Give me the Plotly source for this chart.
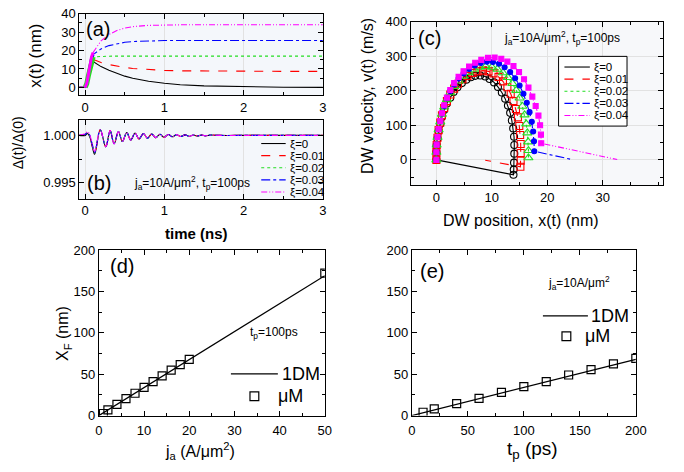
import plotly.graph_objects as go

W, H = 684, 472
FONT = "Liberation Sans, Arial, sans-serif"


def px(x):
    return x / W


def py(y):
    return 1 - y / H


# ---------------- series labels / styles ----------------
xi_labels = ["ξ=0", "ξ=0.01", "ξ=0.02", "ξ=0.03", "ξ=0.04"]
colors = ["#000000", "#ff0000", "#22dd22", "#0000ff", "#ff00ff"]
dashes = ["solid", "dash", "dot", "dashdot", "6px,2px,1px,2px,1px,2px"]

# ---------------- (a) DW position x(t) ----------------
t_a = [-0.08, 0.0, 0.02, 0.04, 0.06, 0.08, 0.1, 0.15, 0.2, 0.3, 0.4, 0.5, 0.6,
       0.8, 1.0, 1.2, 1.5, 2.0, 2.5, 3.0]
xa_0 = [0, 0, 1.8, 5.5, 9.5, 12.8, 14.1, 12.6, 11.3, 9.3, 7.5, 6.1, 5.0,
        3.3, 2.2, 1.4, 0.8, 0.3, 0.1, 0.0]
xa_1 = [0, 0, 1.9, 5.9, 10.2, 13.8, 15.2, 14.3, 13.5, 12.4, 11.5, 10.8, 10.3,
        9.6, 9.2, 9.0, 8.85, 8.75, 8.7, 8.7]
xa_2 = [0, 0, 2.0, 6.2, 10.8, 14.8, 16.6, 16.75, 16.85, 16.95, 17.0, 17.0, 17.0,
        17.0, 17.0, 17.0, 17.0, 17.0, 17.0, 17.0]
xa_3 = [0, 0, 2.1, 6.5, 11.4, 15.6, 17.8, 19.6, 20.9, 22.7, 23.8, 24.5, 24.9,
        25.3, 25.45, 25.5, 25.5, 25.5, 25.5, 25.5]
xa_4 = [0, 0, 2.2, 6.8, 12.0, 16.6, 19.0, 22.5, 25.3, 28.7, 30.9, 32.2, 33.0,
        33.7, 33.95, 34.0, 34.0, 34.0, 34.0, 34.0]
xa_all = [xa_0, xa_1, xa_2, xa_3, xa_4]
n_pulse = 7  # samples up to the end of the 100 ps pulse

# ---------------- (b) Delta(t)/Delta(0) ----------------
t_early = [-0.08, 0.0, 0.03, 0.06, 0.09, 0.12]
d_early_0 = [1.0, 1.0, 1.0002, 0.9998, 0.9988, 0.9980]
d_early_1 = [1.0, 1.0001, 1.0003, 0.9999, 0.9989, 0.9981]
d_early_2 = [1.0, 1.0001, 1.0003, 0.9999, 0.9990, 0.9982]
d_early_3 = [1.0, 1.0001, 1.0003, 1.0, 0.9990, 0.9982]
d_early_4 = [1.0, 1.0002, 1.0004, 1.0, 0.9991, 0.9983]
d_early_all = [d_early_0, d_early_1, d_early_2, d_early_3, d_early_4]
osc_t = [0.19, 0.26, 0.315, 0.365, 0.42, 0.47, 0.525, 0.575, 0.63, 0.68,
         0.735, 0.785, 0.84, 0.89, 0.945, 0.995, 1.05, 1.10, 1.155, 1.205,
         1.26, 1.31, 1.365, 1.415, 1.47, 1.52, 1.575, 1.7, 2.0, 2.5, 3.0]
osc_d = [1.0006, 0.9988, 1.0005, 0.99912, 1.0004, 0.99935, 1.0003, 0.9995,
         1.00025, 0.99962, 1.0002, 0.9997, 1.00015, 0.99976, 1.00012, 0.9998,
         1.0001, 0.99985, 1.00008, 0.99988, 1.00006, 0.9999, 1.00005, 0.99993,
         1.00004, 0.99995, 1.00003, 1.0, 1.0, 1.0, 1.0]

# ---------------- (c) velocity vs position ----------------
cx_0 = [0, 0, 0.05, 0.2, 0.4, 0.7, 1.0, 1.4, 1.9, 2.5, 3.1, 3.8, 4.6, 5.4, 6.2,
        7.0, 7.9, 8.8, 9.6, 10.4, 11.1, 11.8, 12.4, 12.9, 13.3, 13.6, 13.85,
        14.0, 14.05, 14.05, 14.0, 13.95, 13.9]
cv_0 = [0, 22, 42, 62, 83, 104, 124, 144, 163, 180, 196, 210, 222, 232, 239,
        243, 244, 241, 234, 224, 211, 195, 177, 157, 136, 114, 91,
        67, 43, 18, -8, -28, -43]
cx_1 = [0, 0, 0.05, 0.2, 0.4, 0.7, 1.0, 1.4, 1.9, 2.5, 3.2, 3.9, 4.7, 5.6, 6.5,
        7.4, 8.4, 9.4, 10.3, 11.2, 12.0, 12.8, 13.4, 13.9, 14.35, 14.7, 14.95,
        15.1, 15.2, 15.2, 15.2, 15.15]
cv_1 = [0, 22, 43, 64, 86, 108, 129, 150, 170, 189, 206, 220, 233, 243, 251,
        256, 258, 256, 250, 240, 227, 210, 191, 170, 147, 123, 98,
        72, 46, 20, -2, -20]
cx_2 = [0, 0, 0.05, 0.2, 0.4, 0.7, 1.0, 1.4, 1.9, 2.5, 3.2, 4.0, 4.9, 5.8, 6.8,
        7.8, 8.9, 10.0, 11.0, 12.0, 12.9, 13.7, 14.4, 15.0, 15.5, 15.9, 16.2,
        16.4, 16.55, 16.6, 16.6]
cv_2 = [0, 22, 43, 65, 87, 110, 132, 153, 174, 194, 212, 228, 242, 253, 262,
        268, 270, 268, 262, 252, 238, 221, 201, 179, 155, 130, 104,
        78, 52, 27, 6]
cx_3 = [0, 0, 0.05, 0.2, 0.4, 0.7, 1.0, 1.4, 1.9, 2.5, 3.2, 4.0, 4.9, 5.9, 6.9,
        8.0, 9.1, 10.2, 11.3, 12.3, 13.3, 14.2, 15.0, 15.7, 16.3, 16.8, 17.2,
        17.45, 17.6, 17.65]
cv_3 = [0, 22, 44, 66, 88, 111, 134, 156, 178, 199, 218, 235, 250, 263, 273,
        280, 284, 283, 278, 268, 254, 236, 215, 191, 165, 138, 110,
        82, 54, 25]
cx_4 = [0, 0, 0.05, 0.2, 0.4, 0.7, 1.0, 1.4, 1.9, 2.5, 3.2, 4.0, 4.9, 5.9, 7.0,
        8.1, 9.3, 10.5, 11.7, 12.8, 13.9, 14.9, 15.8, 16.6, 17.3, 17.9, 18.4,
        18.7, 18.85, 18.9]
cv_4 = [0, 22, 44, 66, 89, 112, 135, 158, 180, 202, 222, 240, 256, 270, 281,
        289, 295, 296, 292, 284, 271, 254, 233, 209, 183, 156, 128,
        100, 73, 48]
cx_all = [cx_0, cx_1, cx_2, cx_3, cx_4]
cv_all = [cv_0, cv_1, cv_2, cv_3, cv_4]
# position / velocity reached at t = 3 ns after the pulse
tail_x = [0.0, 8.8, 17.0, 24.2, 32.6]
tail_v = [0.0, -1.0, 0.0, 2.0, 1.0]
marker_symbols = ["circle-open", "square-open", "triangle-up-open", "circle", "square"]
marker_sizes = [7, 7, 8, 5, 5]

# ---------------- (d) X_F vs j_a ----------------
ja_line = [0, 50]
xf_line_ja = [0, 169]
ja_mm = [1, 2, 4, 6, 8, 10, 12, 14, 16, 18, 20, 50]
xf_mm_ja = [2.5, 7, 13.5, 20.5, 27, 34, 41, 48, 55, 61.5, 68, 172]

# ---------------- (e) X_F vs t_p ----------------
tp_line = [0, 200]
xf_line_tp = [0, 68]
tp_mm = [10, 20, 40, 60, 80, 100, 120, 140, 160, 180, 200]
xf_mm_tp = [4, 8, 14.5, 20.7, 28, 35, 41, 49, 55.5, 62.5, 69]

fig = go.Figure()

# (a)
for i in range(5):
    fig.add_trace(go.Scatter(x=t_a, y=xa_all[i], mode="lines", xaxis="x", yaxis="y",
                             line=dict(color=colors[i], width=1.1, dash=dashes[i]),
                             showlegend=False))
for i in [0, 1, 3, 2, 4]:
    fig.add_trace(go.Scatter(x=t_a[1:n_pulse], y=xa_all[i][1:n_pulse], mode="lines",
                             xaxis="x", yaxis="y",
                             line=dict(color=colors[i], width=5 if i == 2 else 3),
                             showlegend=False))

# (b)
t_b = t_early + osc_t
for i in range(5):
    fig.add_trace(go.Scatter(x=t_b, y=d_early_all[i] + osc_d, mode="lines",
                             xaxis="x2", yaxis="y2", line_shape="spline",
                             line=dict(color=colors[i], width=1.1, dash=dashes[i]),
                             showlegend=False))

# (c) 1DM lines then micromagnetic markers
for i in range(5):
    fig.add_trace(go.Scatter(x=cx_all[i] + [tail_x[i]], y=cv_all[i] + [tail_v[i]],
                             mode="lines", xaxis="x3", yaxis="y3",
                             line=dict(color=colors[i], width=1.1, dash=dashes[i]),
                             showlegend=False))
for i in range(5):
    fig.add_trace(go.Scatter(x=cx_all[i], y=cv_all[i], mode="markers",
                             xaxis="x3", yaxis="y3",
                             marker=dict(symbol=marker_symbols[i], size=marker_sizes[i],
                                         color=colors[i], line=dict(width=1.1, color=colors[i])),
                             showlegend=False))

# (d)
fig.add_trace(go.Scatter(x=ja_line, y=xf_line_ja, mode="lines", xaxis="x4", yaxis="y4",
                         line=dict(color="black", width=1.3), showlegend=False))
fig.add_trace(go.Scatter(x=ja_mm, y=xf_mm_ja, mode="markers", xaxis="x4", yaxis="y4",
                         marker=dict(symbol="square-open", size=8, color="black",
                                     line=dict(width=1.2)), showlegend=False))
# (e)
fig.add_trace(go.Scatter(x=tp_line, y=xf_line_tp, mode="lines", xaxis="x5", yaxis="y5",
                         line=dict(color="black", width=1.3), showlegend=False))
fig.add_trace(go.Scatter(x=tp_mm, y=xf_mm_tp, mode="markers", xaxis="x5", yaxis="y5",
                         marker=dict(symbol="square-open", size=8, color="black",
                                     line=dict(width=1.2)), showlegend=False))

tickfont = dict(family=FONT, size=13, color="black")


def axis(domain, rng, dtick, minor, anchor, grid=False, **kw):
    d = dict(domain=domain, range=rng, dtick=dtick, anchor=anchor,
             showline=True, linecolor="black", linewidth=1, mirror="allticks",
             ticks="inside", ticklen=5, tickcolor="black", tickwidth=1,
             tickfont=tickfont, zeroline=False, showgrid=grid,
             gridcolor="#e2e2e2", gridwidth=1,
             minor=dict(dtick=minor, ticks="inside", ticklen=3, tickcolor="black",
                        showgrid=False))
    d.update(kw)
    return d


fig.update_layout(
    width=W, height=H, margin=dict(l=0, r=0, t=0, b=0),
    paper_bgcolor="white", plot_bgcolor="rgba(0,0,0,0)",
    font=dict(family=FONT, color="black"),
    xaxis=axis([px(77), px(326)], [-0.074, 3], 1, 0.5, "y", grid=True, tick0=0),
    yaxis=axis([py(91), py(7)], [-4.2, 40], 10, 5, "x", tick0=0),
    xaxis2=axis([px(77), px(326)], [-0.074, 3], 1, 0.5, "y2", grid=True, tick0=0),
    yaxis2=axis([py(198), py(117)], [0.9933, 1.0016], 0.005, 0.0025, "x2",
                tick0=1.0, tickformat=".3f"),
    xaxis3=axis([px(416), px(674)], [-4.6, 40.9], 10, 5, "y3", grid=True,
                tickmode="array", tickvals=[0, 10, 20, 30]),
    yaxis3=axis([py(184), py(15)], [-73, 400], 100, 50, "x3", grid=True, tick0=0),
    xaxis4=axis([px(97), px(328)], [0, 50], 10, 5, "y4", ticklabelstandoff=3),
    yaxis4=axis([py(422), py(251)], [0, 200], 50, 25, "x4"),
    xaxis5=axis([px(417), px(646)], [0, 200], 50, 25, "y5", ticklabelstandoff=3),
    yaxis5=axis([py(422), py(251)], [0, 200], 50, 25, "x5"),
)

shapes = []
# faint panel tint
for xr, yr, col in [("x", "y", "#f4f7fb"), ("x2", "y2", "#f4f7fb"), ("x3", "y3", "#f7f8fa")]:
    shapes.append(dict(type="rect", xref=xr + " domain", yref=yr + " domain",
                       x0=0, x1=1, y0=0, y1=1, fillcolor=col, line=dict(width=0),
                       layer="below"))

annotations = []


def note(text, x, y, size, angle=0, bold=False, anchor="center"):
    if bold:
        text = "<b>" + text + "</b>"
    annotations.append(dict(text=text, x=px(x), y=py(y), xref="paper", yref="paper",
                            showarrow=False, xanchor=anchor, yanchor="middle",
                            textangle=angle, font=dict(family=FONT, size=size, color="black")))


# legend of (b)
for i, lab in enumerate(xi_labels):
    yy = 141 + 12.5 * i
    shapes.append(dict(type="line", xref="paper", yref="paper", x0=px(263), x1=px(288),
                       y0=py(yy), y1=py(yy),
                       line=dict(color=colors[i], width=1.1, dash=dashes[i])))
    note(lab, 290, yy, 11.5, anchor="left")

# legend of (c)
shapes.append(dict(type="rect", xref="paper", yref="paper", x0=px(567), x1=px(637),
                   y0=py(123), y1=py(51), line=dict(color="black", width=1),
                   fillcolor="white"))
for i, lab in enumerate(xi_labels):
    yy = 62 + 12.5 * i
    shapes.append(dict(type="line", xref="paper", yref="paper", x0=px(573), x1=px(599),
                       y0=py(yy), y1=py(yy),
                       line=dict(color=colors[i], width=1.1, dash=dashes[i])))
    note(lab, 601, yy, 11.5, anchor="left")

# legends of (d) and (e)
for (lx0, lx1, ly, sqx, sqy, tx1, tx2) in [(232, 280, 379, 256, 402, 282, 278),
                                          (551, 597, 319, 575, 340, 598, 592)]:
    shapes.append(dict(type="line", xref="paper", yref="paper", x0=px(lx0), x1=px(lx1),
                       y0=py(ly), y1=py(ly), line=dict(color="black", width=1.3)))
    shapes.append(dict(type="rect", xref="paper", yref="paper", x0=px(sqx - 4.5),
                       x1=px(sqx + 4.5), y0=py(sqy + 4.5), y1=py(sqy - 4.5),
                       line=dict(color="black", width=1.2)))
    note("1DM", tx1, ly, 18, anchor="left")
    note("μM", tx2, sqy, 18, anchor="left")

# panel labels
note("(a)", 96, 23, 20)
note("(b)", 97, 182, 20)
note("(c)", 435, 32, 20)
note("(d)", 121, 268, 20)
note("(e)", 438, 273, 20)

cond = "j<sub>a</sub>=10A/μm<sup>2</sup>, t<sub>p</sub>=100ps"
note(cond, 192, 182, 12)
note(cond, 571, 32, 12)
note("t<sub>p</sub>=100ps", 276, 337, 12)
note("j<sub>a</sub>=10A/μm<sup>2</sup>", 588, 285, 12)

# axis titles
note("x(t) (nm)", 32, 50, 17, angle=-90)
note("Δ(t)/Δ(0)", 14, 140, 14, angle=-90)
note("time (ns)", 197, 234, 15, bold=True)
note("DW velocity, v(t) (m/s)", 371, 92, 16, angle=-90)
note("DW position, x(t) (nm)", 529, 220, 16)
note("X<sub>F</sub> (nm)", 61, 337, 16, angle=-90)
note("j<sub>a</sub> (A/μm<sup>2</sup>)", 200, 459, 16)
note("t<sub>p</sub> (ps)", 540, 458, 19)

fig.update_layout(shapes=shapes, annotations=annotations)
fig.write_html("out.html")
